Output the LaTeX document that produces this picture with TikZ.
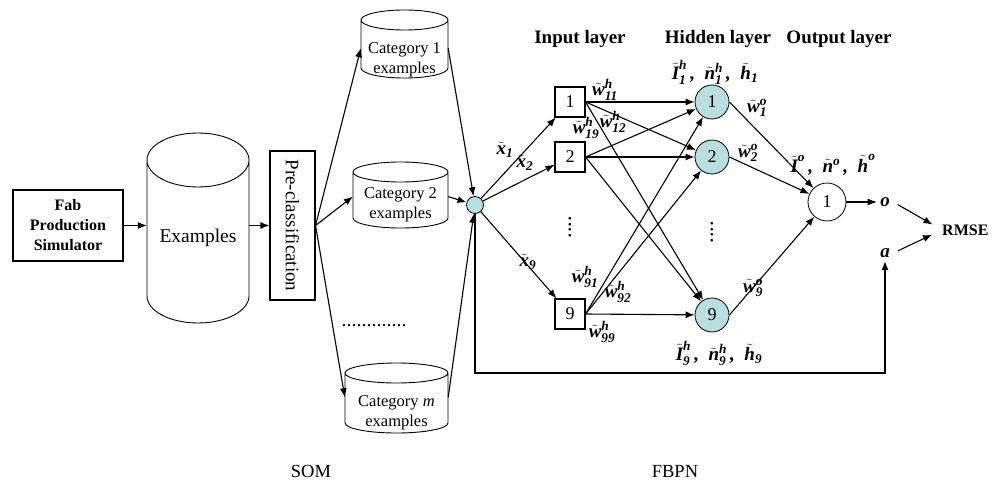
\documentclass[tikz,border=0pt]{standalone}
\usepackage{fontspec}
\usepackage{amsmath}
\usepackage{graphicx}
\setmainfont{Liberation Serif}
\usetikzlibrary{arrows.meta,calc}

\definecolor{neuron}{RGB}{184,222,224}

% drum outline round a store node: name, x radius, y radius, lid above centre, base below centre
\newcommand{\drum}[5]{%
  \draw[line width=0.9pt] ($(#1.center)+(-#2pt,#4pt)$) -- ($(#1.center)+(-#2pt,-#5pt)$)
    arc[start angle=180, end angle=360, x radius=#2pt, y radius=#3pt]
    -- ($(#1.center)+(#2pt,#4pt)$)
    arc[start angle=0, end angle=360, x radius=#2pt, y radius=#3pt];}
\newcommand{\wgt}[3]{$\tilde{\text{#1}}^{\text{#2}}_{\text{#3}}$}

\begin{document}
\begin{tikzpicture}[x=1pt, y=-1pt,
    >={Latex[length=9pt,width=7pt]},
    link/.style={line width=1.1pt},
    box/.style={draw, line width=1.1pt, inner sep=0pt},
    store/.style={inner sep=0pt, align=center, font=\fontsize{16.5}{20}\selectfont},
    unit/.style={draw, circle, fill=neuron, line width=0.8pt, minimum size=34pt, inner sep=0pt, font=\fontsize{18}{18}\selectfont},
    wt/.style={inner sep=0pt, font=\fontsize{19}{19}\selectfont\bfseries\itshape},
    title/.style={font=\fontsize{19}{19}\selectfont\bfseries}]

  \useasboundingbox (0,0) rectangle (999,500);

  % SOM side
  \node[box, minimum width=110pt, minimum height=71pt, align=center, font=\fontsize{16}{20}\selectfont\bfseries] (fab) at (68,225.5) {Fab\\Production\\Simulator};

  \node[store, minimum width=102pt, font=\fontsize{19.5}{20}\selectfont] (ex) at (198,238) {Examples};
  \drum{ex}{51}{27}{78}{58}

  \node[box, minimum width=45pt, minimum height=149pt, font=\fontsize{19}{19}\selectfont] (pre) at (292.5,225.5) {\rotatebox{-90}{Pre-classification}};

  \node[store, minimum width=87pt] (cat1) at (404.5,60) {Category 1\\examples};
  \drum{cat1}{43.5}{10}{40}{8}
  \node[store, minimum width=95pt] (cat2) at (400.5,205) {Category 2\\examples};
  \drum{cat2}{47.5}{10}{33}{13}
  \node[store, minimum width=103pt] (catm) at (396.5,413) {Category \textit{m}\\examples};
  \drum{catm}{51.5}{10}{40}{10}
  \node[font=\fontsize{20}{20}\selectfont] (more) at (374,326) {.............};

  \node[draw, circle, fill=neuron, minimum size=17pt, inner sep=0pt, line width=0.8pt] (hub) at (475,205) {};

  % FBPN side
  \node[title] (tin)  at (580,39) {Input layer};
  \node[title] (thid) at (718,39) {Hidden layer};
  \node[title] (tout) at (839,39) {Output layer};

  \node[box, minimum size=30pt, font=\fontsize{18}{18}\selectfont] (in1) at (570,102) {1};
  \node[box, minimum size=30pt, font=\fontsize{18}{18}\selectfont] (in2) at (570,157) {2};
  \node[box, minimum size=30pt, font=\fontsize{18}{18}\selectfont] (in9) at (570,314) {9};
  \node[font=\fontsize{22}{22}\selectfont] (indots) at (570,227) {\rotatebox{90}{....}};

  \node[unit] (hid1) at (712,102) {1};
  \node[unit] (hid2) at (712,157) {2};
  \node[unit] (hid9) at (712,315) {9};
  \node[font=\fontsize{22}{22}\selectfont] (hiddots) at (712,232) {\rotatebox{90}{....}};

  \node[unit, fill=white, minimum size=38pt] (out) at (827,202) {1};
  \node[font=\fontsize{19}{19}\selectfont\bfseries\itshape] (oout) at (885,202) {o};
  \node[font=\fontsize{19}{19}\selectfont\bfseries\itshape] (aout) at (885,253) {a};
  \node[anchor=west, inner sep=0pt, font=\fontsize{16}{16}\selectfont\bfseries] (rmse) at (942,230) {RMSE};

  % weights and unit values
  \node[wt] (lx1) at (505,150) {$\tilde{\text{x}}_{\text{1}}$};
  \node[wt] (lx2) at (525,163) {$\tilde{\text{x}}_{\text{2}}$};
  \node[wt] (lx9) at (528,262) {$\tilde{\text{x}}_{\text{9}}$};
  \node[wt] (lw11) at (605,90)  {\wgt{w}{h}{11}};
  \node[wt] (lw12) at (613,122) {\wgt{w}{h}{12}};
  \node[wt] (lw19) at (586,128) {\wgt{w}{h}{19}};
  \node[wt] (lw91) at (585,277) {\wgt{w}{h}{91}};
  \node[wt] (lw92) at (618,292) {\wgt{w}{h}{92}};
  \node[wt] (lw99) at (602,332) {\wgt{w}{h}{99}};
  \node[wt] (lv1) at (757,108) {\wgt{w}{o}{1}};
  \node[wt] (lv2) at (748,153) {\wgt{w}{o}{2}};
  \node[wt] (lv9) at (753,288) {\wgt{w}{o}{9}};
  \node[wt] (lh1) at (715,72)  {\wgt{I}{h}{1}\,,\ \ \wgt{n}{h}{1}\,,\ \ $\tilde{\text{h}}_{\text{1}}$};
  \node[wt] (lh9) at (719,353) {\wgt{I}{h}{9}\,,\ \ \wgt{n}{h}{9}\,,\ \ $\tilde{\text{h}}_{\text{9}}$};
  \node[wt] (lo)  at (833,165) {$\tilde{\text{I}}^{\text{o}}$\,,\ \ $\tilde{\text{n}}^{\text{o}}$\,,\ \ $\tilde{\text{h}}^{\text{o}}$};

  \node[font=\fontsize{18.5}{18.5}\selectfont] (som)  at (311,471) {SOM};
  \node[font=\fontsize{18.5}{18.5}\selectfont] (fbpn) at (675,471) {FBPN};

  \coordinate (fbk) at (475,373);

  \draw[link,->] (fab.east) -- (fab.east -| ex.west);
  \draw[link,->] (ex.east |- pre.west) -- (pre.west);
  \draw[link,->] (pre.east) -- (cat1.165);
  \draw[link,->] (pre.east) -- (cat2.170);
  \draw[link,->] (pre.east) -- (catm.163);
  \draw[link,->] (cat1.15) -- (hub);
  \draw[link,->] (cat2.10) -- (hub);
  \draw[link,->] (catm.17) -- (hub);

  \foreach \k in {1,2,9}
    \draw[link,->] (hub) -- (in\k);
  \foreach \i in {1,2,9}
    \foreach \j in {1,2,9}
      \draw[link,->] (in\i.east) -- (hid\j);
  \foreach \j in {1,2,9}
    \draw[link,->] (hid\j.east) -- (out);

  \draw[link,->] (out) -- (oout);
  \draw[link,->,shorten <=5pt,shorten >=11pt] (oout.east) -- (rmse.west);
  \draw[link,->,shorten <=5pt,shorten >=11pt] (aout.east) -- (rmse.west);
  \draw[link,->] (hub.south) -- (hub.south |- fbk) -| (aout.south);
\end{tikzpicture}
\end{document}
